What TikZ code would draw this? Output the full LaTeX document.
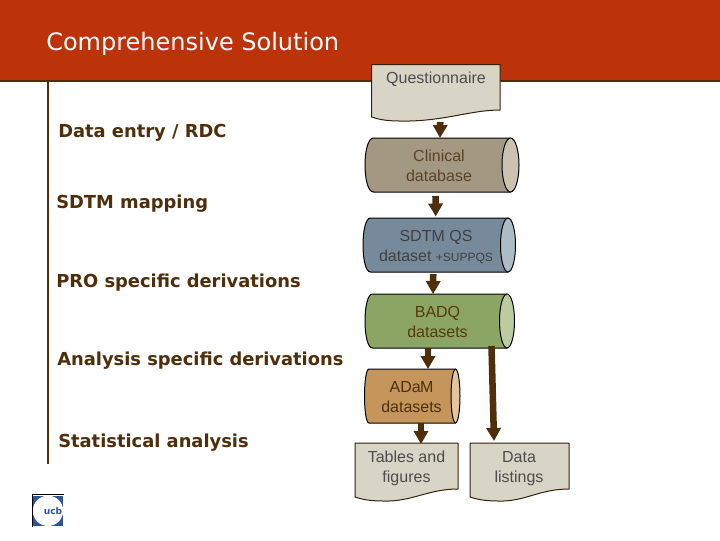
\documentclass[tikz,border=0pt]{standalone}
\usepackage{fontspec}
\setmainfont{Liberation Sans}
\newfontfamily\versans{DejaVu Sans}
\usetikzlibrary{arrows.meta}
\definecolor{hdr}{HTML}{BC330A}
\definecolor{brn}{HTML}{4F2F0B}
\definecolor{dc}{HTML}{D8D5C7}
\definecolor{cA}{HTML}{A39882}\definecolor{cAe}{HTML}{CBC3B0}
\definecolor{cB}{HTML}{768A9C}\definecolor{cBe}{HTML}{ADBDC5}
\definecolor{cC}{HTML}{8BA564}\definecolor{cCe}{HTML}{BCCBA0}
\definecolor{cD}{HTML}{C4965C}\definecolor{cDe}{HTML}{E2C4A0}
\definecolor{ucbblue}{HTML}{2F5597}
\tikzset{x=0.75pt,y=-0.75pt,
  boxn/.style={inner sep=0pt,outer sep=0pt,minimum width=0pt,minimum height=0pt},
  txt/.style={align=center,font=\fontsize{12}{15}\selectfont,inner sep=0pt},
  lab/.style={anchor=west,inner sep=0pt,text=brn,font=\versans\bfseries\fontsize{13.4}{16}\selectfont},
  arr/.style={draw=brn,line width=4.9pt,-{Triangle[width=14*0.75pt,length=13*0.75pt]}},
  shape outline/.style={draw=black,line width=0.75pt,line join=round}}
% name, x1, y1, x2, y2, rx, body, end
\newcommand\cylnode[8]{%
  \path[fill=#7,shape outline] (#2+#6,#3) .. controls (#2+#6-1.333*#6,#3) and (#2+#6-1.333*#6,#5) .. (#2+#6,#5) -- (#4-#6,#5) -- (#4-#6,#3) -- cycle;
  \path[fill=#8,shape outline] ({#4-#6},{(#3+#5)/2}) ellipse [x radius=#6*0.75pt,y radius=(#5-#3)/2*0.75pt];
  \node[boxn,minimum width=(#4-#2)*0.75pt,minimum height=(#5-#3)*0.75pt] (#1) at ({(#2+#4)/2},{(#3+#5)/2}) {};}
% name, x1, y1, x2, y2 (left bottom), y (right bottom)
\newcommand\docnode[6]{%
  \path[fill=dc,draw=brn!70!black,line width=0.75pt,line join=round] (#2,#3) -- (#4,#3) -- (#4,#6) .. controls (#4-30,#6) and ({#2+0.55*(#4-#2)},#5+5) .. (#2+28,#5+4) .. controls (#2+14,#5+4) and (#2+6,#5+2) .. (#2,#5) -- cycle;
  \node[boxn,minimum width=(#4-#2)*0.75pt,minimum height=(#5+4-#3)*0.75pt] (#1) at ({(#2+#4)/2},{(#3+#5+4)/2}) {};}
\begin{document}
\begin{tikzpicture}
\useasboundingbox (0,0) rectangle (720,540);
\fill[white] (0,0) rectangle (720,540);
\fill[hdr] (0,0) rectangle (720,80);
\draw[brn,line width=1.5pt] (0,80.5) -- (720,80.5);
\draw[brn,line width=1.5pt] (48,81) -- (48,464);
\node[anchor=west,inner sep=0pt,text=white,font=\versans\fontsize{18}{20}\selectfont] (title) at (46,43.5) {Comprehensive Solution};
\node[lab] (l1) at (58,132.5) {Data entry / RDC};
\node[lab] (l2) at (56,203.5) {SDTM mapping};
\node[lab] (l3) at (56,282.5) {PRO specific derivations};
\node[lab] (l4) at (57,360.5) {Analysis specific derivations};
\node[lab] (l5) at (58,442.5) {Statistical analysis};
% shapes
\docnode{q}{371.5}{64.5}{500}{117}{110}
\cylnode{clin}{365}{138}{519}{192}{8.5}{cA}{cAe}
\cylnode{sdtm}{363}{218}{515.5}{272}{7.5}{cB}{cBe}
\cylnode{badq}{365}{294}{514.5}{348}{7.5}{cC}{cCe}
\cylnode{adam}{364.5}{369}{460}{423}{4.5}{cD}{cDe}
\docnode{tf}{355}{443}{458}{497}{489}
\docnode{dl}{470}{443}{569}{497}{489}
% texts
\node[txt,text=black!70] (qt) at (436,79) {Questionnaire};
\node[txt,text=brn!75!gray] (clint) at (439,166) {Clinical\\database};
\node[txt,text=black!75] (sdtmt) at (436,247.5) {SDTM QS\\dataset {\fontsize{9}{15}\selectfont +SUPPQS}};
\node[txt,text=brn!85!olive] (badqt) at (437.5,322) {BADQ\\datasets};
\node[txt,text=brn] (adamt) at (411.5,397) {ADa\kern-0.5pt M\\datasets};
\node[txt,text=black!70] (tft) at (406.5,468.5) {Tables and\\figures};
\node[txt,text=black!70] (dlt) at (519,469) {Data\\listings};
% connectors
\draw[arr] ([xshift=4.5*0.75pt,yshift=-1*0.75pt]q.south) -- ([xshift=-2*0.75pt]clin.north);
\draw[arr] ([xshift=-6.5*0.75pt,yshift=-4*0.75pt]clin.south) -- ([xshift=-3.5*0.75pt,yshift=1.5*0.75pt]sdtm.north);
\draw[arr] ([xshift=-6*0.75pt,yshift=-2*0.75pt]sdtm.south) -- ([xshift=-6.75*0.75pt]badq.north);
\draw[arr] ([xshift=-11.75*0.75pt]badq.south) -- ([xshift=15.75*0.75pt]adam.north);
\draw[arr] ([xshift=51.75*0.75pt,yshift=2*0.75pt]badq.south) -- ([xshift=-25.5*0.75pt,yshift=2*0.75pt]dl.north);
\draw[arr] ([xshift=8.75*0.75pt]adam.south) -- ([xshift=14.5*0.75pt,yshift=-1*0.75pt]tf.north);
% logo
\fill[ucbblue] (33,495.5) rectangle (63,526);
\fill[white] (48,510.8) circle [radius=15.2*0.75pt];
\draw[black,line width=0.75pt] (32,527) -- (32,494) -- (64,494);
\node[inner sep=0pt,text=ucbblue,font=\versans\bfseries\fontsize{6.8}{8}\selectfont] (ucb) at (53,511.5) {ucb};
\end{tikzpicture}
\end{document}
